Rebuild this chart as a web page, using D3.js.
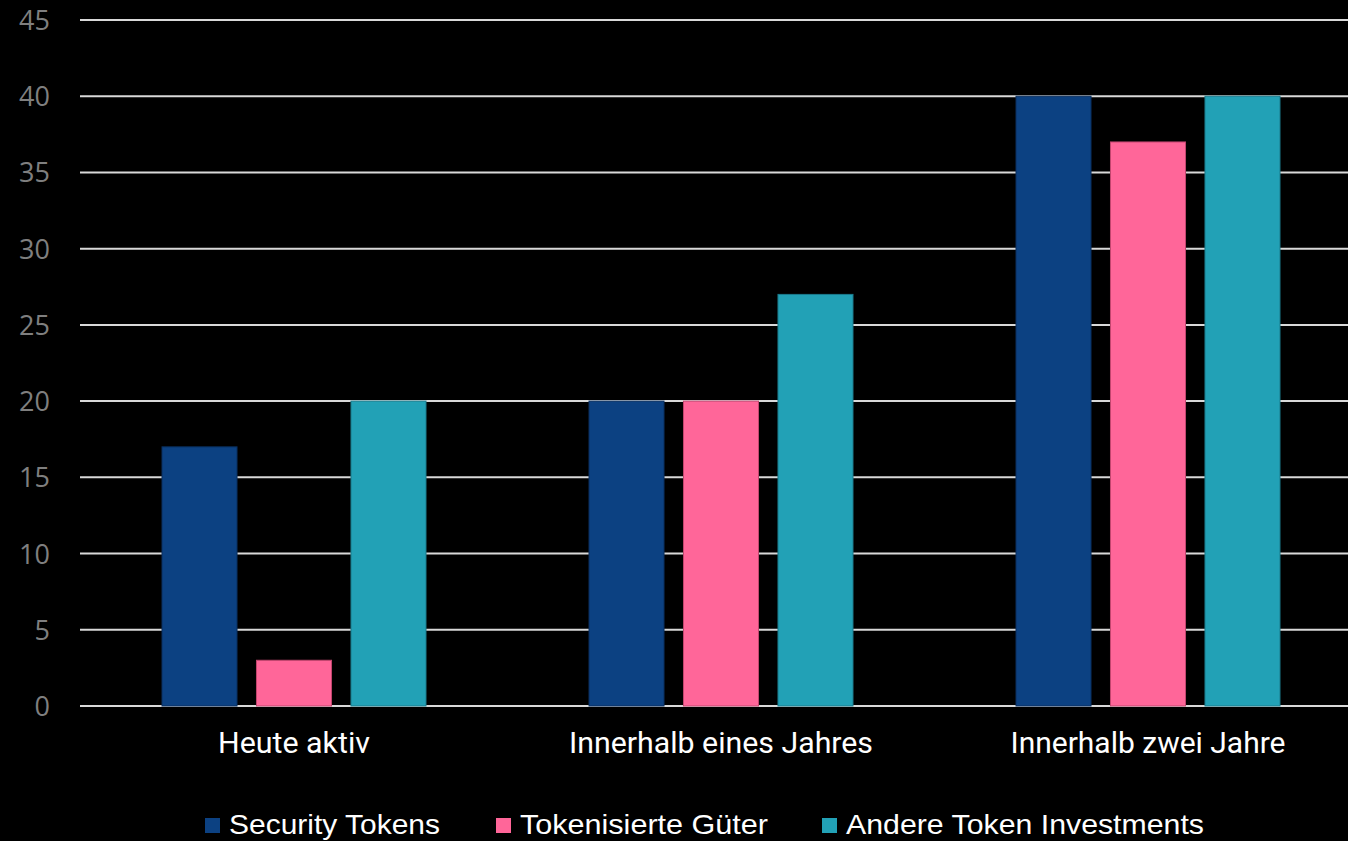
<!DOCTYPE html>
<html>
<head>
<meta charset="utf-8">
<script src="https://cdn.jsdelivr.net/npm/d3@7/dist/d3.min.js"></script>
<style>
  html, body { margin: 0; padding: 0; background: #000; overflow: hidden; }
  svg { display: block; }
</style>
</head>
<body>
<svg id="chart" width="1348" height="841"></svg>
<script>
const categories = ["Heute aktiv", "Innerhalb eines Jahres", "Innerhalb zwei Jahre"];
const seriesNames = ["Security Tokens", "Tokenisierte Güter", "Andere Token Investments"];
const securityTokens = [17, 20, 40];
const tokenisierteGueter = [3, 20, 37];
const andereToken = [20, 27, 40];
const yTicks = [0, 5, 10, 15, 20, 25, 30, 35, 40, 45];

const colors = ["#0C4182", "#FF6699", "#22A1B6"];
const strokes = ["#0a2f5e", "#c2466f", "#1a7b8c"];
const seriesValues = [securityTokens, tokenisierteGueter, andereToken];

const svg = d3.select("#chart");
const W = 1348, H = 841;

const y = d3.scaleLinear().domain([0, 45]).range([706, 20]);
const x0 = d3.scaleBand().domain(categories).range([80.5, 1361.5]).paddingInner(0).paddingOuter(0);
const x1 = d3.scaleBand().domain(seriesNames).range([81.5, 345.5]).paddingInner(0.206).paddingOuter(0);

// gridlines
svg.append("g").selectAll("line").data(yTicks).join("line")
  .attr("x1", 80).attr("x2", W)
  .attr("y1", d => y(d)).attr("y2", d => y(d))
  .attr("stroke", "#d9d9d9").attr("stroke-width", 2);

// y tick labels
svg.append("g").selectAll("text").data(yTicks).join("text")
  .attr("x", 50).attr("y", d => y(d) + 10)
  .attr("text-anchor", "end")
  .attr("fill", "#7f7f7f")
  .attr("font-family", "'Open Sans', sans-serif")
  .attr("font-size", 27)
  .text(d => d);

// bars
const data = [];
categories.forEach((c, ci) => {
  seriesNames.forEach((s, si) => {
    data.push({ c, s, si, v: seriesValues[si][ci] });
  });
});
svg.append("g").selectAll("rect").data(data).join("rect")
  .attr("x", d => x0(d.c) + x1(d.s))
  .attr("width", x1.bandwidth())
  .attr("y", d => y(d.v))
  .attr("height", d => y(0) - y(d.v))
  .attr("fill", d => colors[d.si])
  .attr("stroke", d => strokes[d.si])
  .attr("stroke-width", 1);

// category labels
const catWidths = [152, 304, 275];
svg.append("g").selectAll("text").data(categories).join("text")
  .attr("x", d => x0(d) + x0.bandwidth() / 2)
  .attr("y", 753)
  .attr("text-anchor", "middle")
  .attr("fill", "#ffffff")
  .attr("font-family", "Roboto, 'Open Sans', sans-serif")
  .attr("font-size", 30)
  .attr("textLength", (d, i) => catWidths[i])
  .attr("lengthAdjust", "spacingAndGlyphs")
  .text(d => d);

// legend
const legX = [205, 496, 822];
const legW = [211, 248, 358];
const leg = svg.append("g").selectAll("g").data(seriesNames).join("g")
  .attr("transform", (d, i) => `translate(${legX[i]},0)`);
leg.append("rect").attr("x", 0).attr("y", 818).attr("width", 15).attr("height", 15)
  .attr("fill", (d, i) => colors[i]);
leg.append("text").attr("x", 24).attr("y", 834)
  .attr("fill", "#ffffff")
  .attr("font-family", "'Liberation Sans Narrow', 'Liberation Sans', Arial, sans-serif")
  .attr("font-size", 28)
  .attr("textLength", (d, i) => legW[i])
  .attr("lengthAdjust", "spacingAndGlyphs")
  .text(d => d);
</script>
</body>
</html>
